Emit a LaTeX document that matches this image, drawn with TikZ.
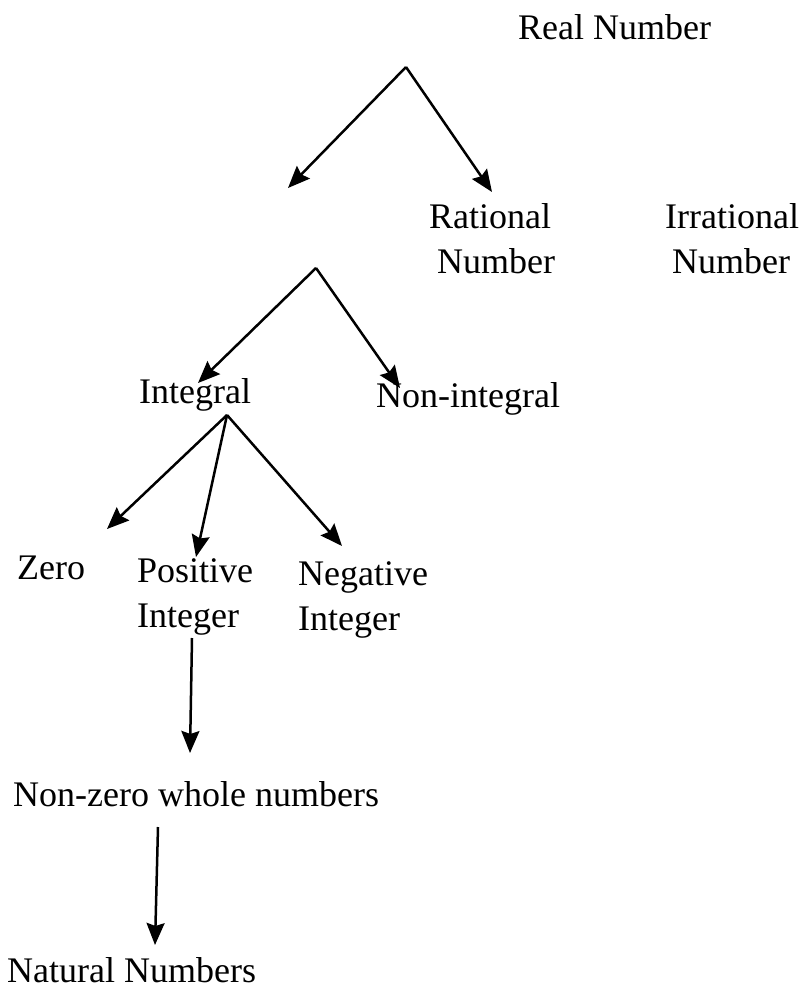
\documentclass[tikz,border=0pt]{standalone}
\usepackage{fontspec}
\setmainfont{Liberation Serif}
\usetikzlibrary{arrows.meta}
\begin{document}
\begin{tikzpicture}[x=1pt,y=-1pt,
  lbl/.style={anchor=base west,inner sep=0pt,font=\fontsize{36}{44}\selectfont},
  arr/.style={line width=2.5pt,-{Stealth[length=22pt,width=18pt,inset=3pt]}}]
\useasboundingbox[fill=white] (0,0) rectangle (802,993);
% labels
\node[lbl] (real) at (518,39) {Real Number};
\node[lbl] (rat1) at (429,228) {Rational};
\node[lbl] (rat2) at (437,273) {Number};
\node[lbl] (irr1) at (665,228) {Irrational};
\node[lbl] (irr2) at (672,273) {Number};
\node[lbl] (integral) at (139,403) {Integral};
\node[lbl] (nonint) at (376,407) {Non-integral};
\node[lbl] (zero) at (17,579) {Zero};
\node[lbl] (pos1) at (137,582) {Positive};
\node[lbl] (pos2) at (137,627) {Integer};
\node[lbl] (neg1) at (298,585) {Negative};
\node[lbl] (neg2) at (298,630) {Integer};
\node[lbl] (nzw) at (13,806) {Non-zero whole numbers};
\node[lbl] (nat) at (7,982) {Natural Numbers};
% connector points
\coordinate (s1) at (406,67);
\coordinate (t1a) at (288,188);
\coordinate (t1b) at (492,192);
\coordinate (s2) at (316,268);
\coordinate (t2a) at (198,383);
\coordinate (t2b) at (400,388);
\coordinate (s3) at (227,415);
\coordinate (t3a) at (107,529);
\coordinate (t3b) at (196,557);
\coordinate (t3c) at (342,546);
\coordinate (s4) at (192,638);
\coordinate (t4) at (190,753);
\coordinate (s5) at (158,827);
\coordinate (t5) at (155,945);
% connectors
\draw[arr] (s1) -- (t1a);
\draw[arr] (s1) -- (t1b);
\draw[arr] (s2) -- (t2a);
\draw[arr] (s2) -- (t2b);
\draw[arr] (s3) -- (t3a);
\draw[arr] (s3) -- (t3b);
\draw[arr] (s3) -- (t3c);
\draw[arr] (s4) -- (t4);
\draw[arr] (s5) -- (t5);
\end{tikzpicture}
\end{document}
